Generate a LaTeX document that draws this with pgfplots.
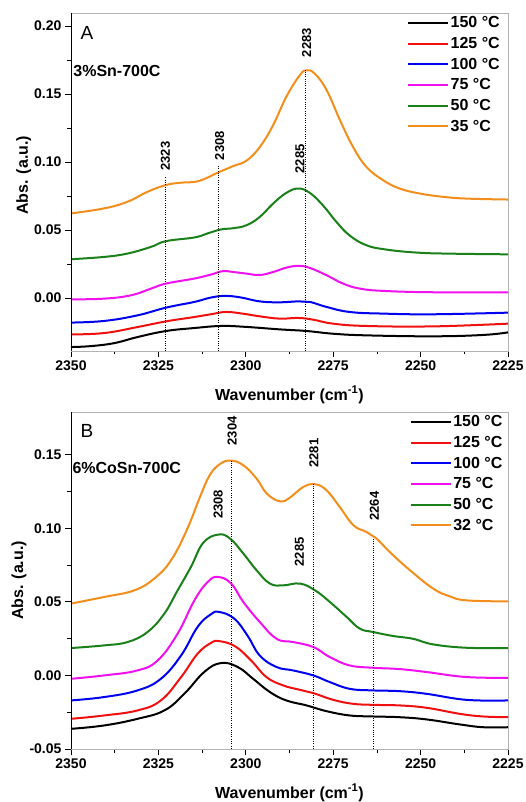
\documentclass[border=0pt]{standalone}
\usepackage{fontspec}
\setmainfont{Liberation Sans}
\usepackage{pgfplots}
\pgfplotsset{compat=1.18}

\definecolor{cBlack}{HTML}{000000}
\definecolor{cRed}{HTML}{F01010}
\definecolor{cBlue}{HTML}{0000F0}
\definecolor{cMag}{HTML}{F010F0}
\definecolor{cGreen}{HTML}{1A801A}
\definecolor{cOrange}{HTML}{F28E1C}

\tikzset{
  peaklabel/.style={rotate=90, font=\fontsize{13}{13}\selectfont\bfseries, inner sep=0pt},
}
\pgfplotsset{
  irpanel/.style={
    scale only axis, width=437pt,
    x dir=reverse, xmin=2225, xmax=2350,
    xtick={2225,2250,2275,2300,2325,2350},
    minor x tick num=1, minor y tick num=1,
    tick align=outside, xtick pos=bottom, ytick pos=left,
    major tick length=6pt, minor tick length=3.5pt,
    tick style={black, line width=0.8pt},
    axis line style={gray!60, line width=0.8pt},
    /pgf/number format/assume math mode=true,
    tick label style={font=\fontsize{14}{14}\selectfont\bfseries},
    xticklabel style={/pgf/number format/1000 sep={}},
    yticklabel style={/pgf/number format/.cd, fixed, fixed zerofill, precision=2},
    label style={font=\fontsize{16}{16}\selectfont\bfseries},
    xlabel={Wavenumber (cm\textsuperscript{-1})},
    ylabel={Abs. (a.u.)},
    xlabel style={at={(axis description cs:0.5,-0.130)}, anchor=center},
    legend style={draw=none, fill=none, anchor=north west,
      font=\fontsize{16}{16}\selectfont\bfseries, row sep=5pt,
      nodes={inner sep=1.5pt}},
    legend cell align=left,
    legend image code/.code={\draw[#1] (0pt,0pt) -- (40pt,0pt);},
    every axis plot/.append style={line width=2pt, smooth, tension=0.7},
  },
  peakline/.style={black, line width=1pt, dash pattern=on 1pt off 1.3pt, forget plot, sharp plot},
}

\begin{document}
\begin{tikzpicture}
\useasboundingbox (0,0) rectangle (526pt,802pt);

% ---------- panel A ----------
\begin{axis}[irpanel, at={(71pt,451pt)}, anchor=south west, height=338pt,
  ymin=-0.039, ymax=0.2096,
  ytick={0,0.05,0.1,0.15,0.2},
  ylabel style={at={(axis description cs:-0.108,0.52)}, anchor=center},
  legend style={at={(axis description cs:0.762,1.0)}},
]
\addplot[cBlack] coordinates {(2350,-0.0361)(2344.3,-0.0354)(2337.6,-0.0332)(2330.9,-0.0287)(2322.8,-0.0243)(2314.7,-0.0221)(2307.1,-0.0206)(2300.4,-0.0212)(2290.3,-0.0231)(2282.6,-0.0243)(2275.0,-0.0263)(2265.5,-0.0275)(2246.4,-0.0282)(2232.1,-0.0272)(2225,-0.0253)};
\addplot[cRed] coordinates {(2350,-0.0268)(2340.5,-0.0258)(2331,-0.0214)(2322.8,-0.0172)(2314.7,-0.014)(2310,-0.012)(2305.7,-0.0103)(2301,-0.0115)(2296.0,-0.0135)(2290.3,-0.0152)(2285.0,-0.0147)(2280.7,-0.016)(2275.0,-0.0189)(2265.5,-0.0206)(2246.4,-0.0209)(2225,-0.0189)};
\addplot[cBlue] coordinates {(2350,-0.0181)(2340.5,-0.0169)(2331,-0.0128)(2322.8,-0.0071)(2314.7,-0.0029)(2310,0.0003)(2306.1,0.0015)(2301.7,0.0005)(2296.0,-0.0025)(2290.3,-0.0032)(2285.0,-0.0025)(2281.7,-0.0029)(2276.9,-0.0066)(2270.3,-0.0103)(2260.7,-0.0115)(2246.4,-0.012)(2225,-0.0108)};
\addplot[cMag] coordinates {(2350,-0.001)(2340.5,-0.0005)(2332.8,0.002)(2327.1,0.0069)(2322.8,0.0106)(2314.7,0.0143)(2310,0.0172)(2306.6,0.0197)(2303.6,0.0191)(2299.8,0.0179)(2296.0,0.0169)(2292.2,0.0191)(2288.4,0.0223)(2285.0,0.0236)(2281.7,0.0221)(2276.9,0.0167)(2272.2,0.0106)(2267.4,0.0069)(2260.7,0.0052)(2246.4,0.0042)(2225,0.0042)};
\addplot[cGreen] coordinates {(2350,0.0285)(2340.5,0.0302)(2333.8,0.0327)(2327.1,0.0376)(2322.8,0.0418)(2314.7,0.0445)(2310.9,0.0475)(2307.1,0.0504)(2303.6,0.0513)(2299.8,0.0535)(2296.0,0.0596)(2292.2,0.0694)(2288.4,0.0773)(2285.0,0.0805)(2281.7,0.0773)(2277.9,0.068)(2274.1,0.056)(2270.3,0.046)(2265.5,0.0388)(2259.8,0.0356)(2251.2,0.0334)(2241.7,0.0326)(2225,0.0321)};
\addplot[cOrange] coordinates {(2350,0.0622)(2340.5,0.0659)(2333.8,0.0708)(2328.1,0.0781)(2322.8,0.0831)(2318.5,0.0848)(2313.5,0.086)(2307.9,0.0923)(2303.6,0.097)(2299.8,0.101)(2296.0,0.111)(2292.2,0.127)(2288.4,0.148)(2284.5,0.164)(2282.6,0.1674)(2280.3,0.165)(2276.9,0.153)(2273.1,0.131)(2269.3,0.111)(2265.5,0.0964)(2260.7,0.0866)(2256.0,0.0805)(2250.2,0.0768)(2243.6,0.0744)(2236.9,0.0731)(2225,0.0724)};
\legend{150 °C,125 °C,100 °C,75 °C,50 °C,35 °C}
\addplot[peakline] coordinates {(2323.1,-0.039)(2323.1,0.089)};
\addplot[peakline] coordinates {(2307.9,-0.039)(2307.9,0.097)};
\addplot[peakline] coordinates {(2282.8,-0.039)(2282.8,0.1676)};
\node[peaklabel] at (axis cs:2323,0.1043) {2323};
\node[peaklabel] at (axis cs:2307.5,0.112) {2308};
\node[peaklabel] at (axis cs:2282.6,0.1877) {2283};
\node[peaklabel] at (axis cs:2284.5,0.1023) {2285};
\node[font=\fontsize{19}{19}\selectfont, inner sep=0pt] at (axis description cs:0.0366,0.941) {A};
\node[font=\fontsize{16}{16}\selectfont\bfseries, anchor=west, inner sep=0pt] at (axis description cs:0.005,0.828) {3\%Sn-700C};
\draw[black, line width=0.8pt] (axis description cs:0,1) -- (axis description cs:0,0) -- (axis description cs:1,0);
\end{axis}

% ---------- panel B ----------
\begin{axis}[irpanel, at={(71pt,53pt)}, anchor=south west, height=337pt,
  ymin=-0.05, ymax=0.179,
  ytick={-0.05,0,0.05,0.1,0.15},
  ylabel style={at={(axis description cs:-0.119,0.50)}, anchor=center},
  legend style={at={(axis description cs:0.768,1.0)}},
]
\addplot[cBlack] coordinates {(2350,-0.0363)(2340.5,-0.034)(2331,-0.0295)(2323.3,-0.0238)(2317.6,-0.0125)(2311.9,0.0023)(2307.1,0.0084)(2302.3,0.0057)(2297.9,-0.0023)(2293.1,-0.0113)(2288.4,-0.017)(2282.6,-0.0204)(2276.9,-0.0243)(2270.3,-0.0272)(2263.6,-0.0279)(2256.0,-0.0284)(2248.3,-0.0299)(2238.8,-0.0333)(2232.1,-0.0352)(2225,-0.0352)};
\addplot[cRed] coordinates {(2350,-0.0295)(2340.5,-0.0272)(2331,-0.0238)(2324.3,-0.017)(2318.5,-0.0011)(2313.8,0.0147)(2310,0.022)(2307.6,0.0233)(2303,0.0197)(2298.5,0.0102)(2294.1,-0.0011)(2289.3,-0.0068)(2284.5,-0.0098)(2280.7,-0.012)(2275.0,-0.0166)(2269.3,-0.0193)(2263.6,-0.02)(2256.0,-0.0204)(2248.3,-0.022)(2238.8,-0.0261)(2232.1,-0.0279)(2225,-0.0284)};
\addplot[cBlue] coordinates {(2350,-0.017)(2340.5,-0.0147)(2331,-0.0102)(2324.3,-0.0023)(2318.5,0.0136)(2313.8,0.0329)(2310,0.0415)(2307.6,0.0431)(2303.3,0.0386)(2299.5,0.027)(2296.0,0.0135)(2291.2,0.0057)(2286.5,0.0034)(2280.7,0.0)(2276.0,-0.0045)(2270.3,-0.0091)(2263.6,-0.0102)(2256.0,-0.0107)(2248.3,-0.0125)(2236.9,-0.0166)(2225,-0.017)};
\addplot[cMag] coordinates {(2350,-0.0023)(2340.5,0)(2331,0.0034)(2325.2,0.0102)(2319.5,0.0284)(2314.7,0.051)(2310.9,0.0635)(2308,0.0669)(2304.2,0.0625)(2300.7,0.0499)(2296.0,0.0363)(2291.2,0.0249)(2286.5,0.0227)(2280.7,0.0193)(2276.0,0.0125)(2270.3,0.0068)(2263.6,0.0052)(2256.0,0.0043)(2248.3,0.0023)(2236.9,-0.0011)(2225,-0.0016)};
\addplot[cGreen] coordinates {(2350,0.0186)(2340.5,0.0204)(2333.8,0.0227)(2328.1,0.0295)(2323.3,0.042)(2319.5,0.0578)(2315.7,0.0737)(2312.2,0.09)(2307.9,0.0957)(2304.5,0.093)(2300.7,0.0828)(2296.9,0.0714)(2293.1,0.0624)(2289.3,0.0612)(2284.5,0.0624)(2280.2,0.0578)(2275.9,0.0498)(2271.1,0.0396)(2267.4,0.0318)(2263.6,0.0295)(2257.9,0.0268)(2252.2,0.0249)(2246.4,0.0211)(2236.9,0.0188)(2225,0.0186)};
\addplot[cOrange] coordinates {(2350,0.0488)(2340.5,0.0533)(2331.9,0.0578)(2326.2,0.0658)(2321.4,0.0782)(2316.9,0.0987)(2313.1,0.1213)(2310.3,0.1361)(2307.4,0.1436)(2304.3,0.146)(2300.7,0.1428)(2296.9,0.1337)(2294.0,0.1236)(2290.2,0.1183)(2287.4,0.1208)(2283.6,0.128)(2280.2,0.1299)(2276.9,0.1258)(2273.1,0.1144)(2269.2,0.102)(2265.4,0.0974)(2262.6,0.093)(2258.8,0.0838)(2253,0.0714)(2246.4,0.059)(2241.7,0.0538)(2236.9,0.051)(2225,0.0503)};
\legend{150 °C,125 °C,100 °C,75 °C,50 °C,32 °C}
\addplot[peakline] coordinates {(2304.1,-0.05)(2304.1,0.1458)};
\addplot[peakline] coordinates {(2280.7,-0.05)(2280.7,0.13)};
\addplot[peakline] coordinates {(2263.4,-0.05)(2263.4,0.0937)};
\node[peaklabel] at (axis cs:2303.9,0.1662) {2304};
\node[peaklabel] at (axis cs:2280.5,0.151) {2281};
\node[peaklabel] at (axis cs:2307.9,0.1163) {2308};
\node[peaklabel] at (axis cs:2284.7,0.0839) {2285};
\node[peaklabel] at (axis cs:2263.2,0.115) {2264};
\node[font=\fontsize{19}{19}\selectfont, inner sep=0pt] at (axis description cs:0.0366,0.944) {B};
\node[font=\fontsize{16}{16}\selectfont\bfseries, anchor=west, inner sep=0pt] at (axis description cs:0.003,0.834) {6\%CoSn-700C};
\draw[black, line width=0.8pt] (axis description cs:0,1) -- (axis description cs:0,0) -- (axis description cs:1,0);
\end{axis}
\end{tikzpicture}
\end{document}
